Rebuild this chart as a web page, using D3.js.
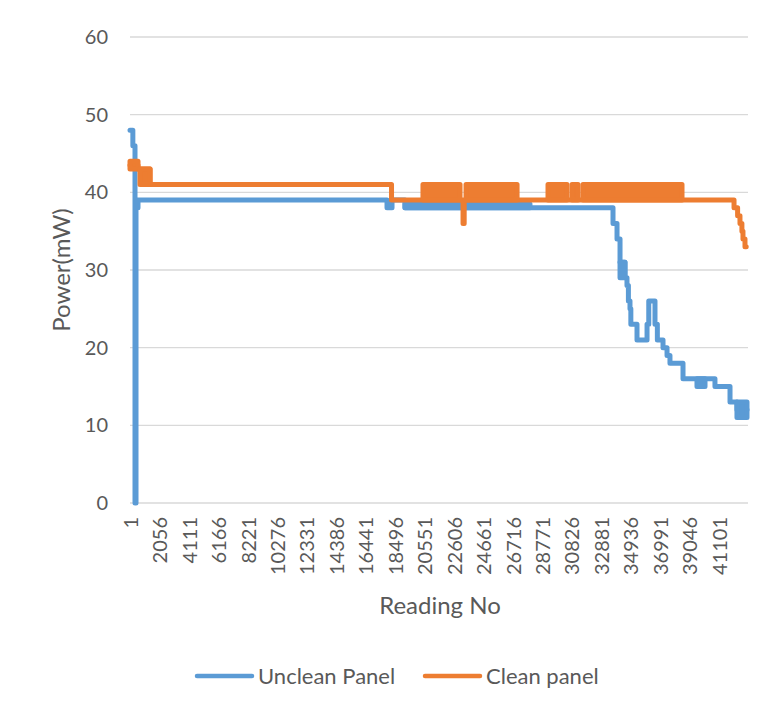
<!DOCTYPE html>
<html>
<head>
<meta charset="utf-8">
<script src="https://cdn.jsdelivr.net/npm/d3@7"></script>
<style>
  body { margin: 0; background: #fff; }
  text { font-family: Lato, "Open Sans", sans-serif; fill: #595959; }
</style>
</head>
<body>
<div id="chart"></div>
<script>
// series values: [reading no, power mW] change points (step lines)
var uncleanSteps = [
  [1, 48], [200, 46], [350, 0], [420, 38], [560, 39], [17935, 38], [18285, 39], [19190, 38],
  [33705, 36], [33985, 34], [34195, 31], [34540, 29], [34680, 28], [34780, 26], [34890, 25],
  [34950, 23], [35380, 21], [36080, 23], [36200, 26], [36635, 23], [36800, 21], [37195, 20],
  [37475, 19], [37680, 18], [38590, 16], [40820, 15], [41870, 13], [42355, 12], [43055, 12]
];
// ranges where the reading flickers between two levels: [from, to, low, high]
var uncleanBands = [
  [19190, 27910, 38, 38.5], [34195, 34540, 29, 31], [39565, 40125, 15, 16], [42355, 43055, 11, 13]
];
var cleanSteps = [
  [1, 43.5], [560, 43], [1400, 41], [18250, 39], [23240, 36], [23320, 39], [42150, 38],
  [42400, 37], [42565, 36], [42700, 35], [42775, 34], [42915, 33], [43000, 33]
];
var cleanBands = [
  [1, 560, 43, 44], [700, 1400, 41, 43], [20445, 23030, 39, 41], [23450, 27010, 39, 41],
  [29170, 30495, 39, 41], [30845, 31265, 39, 41], [31610, 38520, 39, 41]
];
var xTicks = [1, 2056, 4111, 6166, 8221, 10276, 12331, 14386, 16441, 18496, 20551, 22606,
  24661, 26716, 28771, 30826, 32881, 34936, 36991, 39046, 41101];
var yTicks = [0, 10, 20, 30, 40, 50, 60];
var seriesNames = ["Unclean Panel", "Clean panel"];
var seriesColors = ["#5B9BD5", "#ED7D31"];

var W = 765, H = 707;
var margin = { top: 37, right: 17, bottom: 204, left: 130 };

var svg = d3.select("#chart").append("svg")
  .attr("width", W)
  .attr("height", H);

var x = d3.scaleLinear().domain([1, 43125]).range([margin.left, W - margin.right]);
var y = d3.scaleLinear().domain([0, 60]).range([H - margin.bottom, margin.top]);

// gridlines
svg.append("g")
  .selectAll("line")
  .data(yTicks)
  .join("line")
  .attr("x1", x.range()[0])
  .attr("x2", x.range()[1])
  .attr("y1", d => y(d))
  .attr("y2", d => y(d))
  .attr("stroke", "#D9D9D9")
  .attr("stroke-width", 1.3);

// y axis labels
var yAxis = svg.append("g")
  .attr("transform", `translate(${margin.left}, 0)`)
  .call(d3.axisLeft(y).tickValues(yTicks).tickSize(0).tickPadding(22));
yAxis.select(".domain").remove();
yAxis.selectAll("text")
  .style("font-size", "20px")
  .style("font-family", "Lato, sans-serif")
  .attr("fill", "#595959");

// x axis labels (rotated)
var xAxis = svg.append("g")
  .attr("transform", `translate(0, ${y(0)})`)
  .call(d3.axisBottom(x).tickValues(xTicks).tickFormat(d3.format("d")).tickSize(0));
xAxis.select(".domain").remove();
xAxis.selectAll("text")
  .attr("transform", "rotate(-90)")
  .attr("text-anchor", "end")
  .attr("x", -14)
  .attr("y", 0)
  .attr("dy", "0.36em")
  .style("font-size", "20px")
  .style("font-family", "Lato, sans-serif")
  .attr("fill", "#595959");

// axis titles
svg.append("text")
  .attr("text-anchor", "middle")
  .attr("transform", `translate(70, ${(y(0) + y(60)) / 2}) rotate(-90)`)
  .style("font-size", "24px")
  .text("Power(mW)");

svg.append("text")
  .attr("text-anchor", "middle")
  .attr("x", 440)
  .attr("y", 614)
  .style("font-size", "24px")
  .text("Reading No");

// the lines
var stepLine = d3.line()
  .x(d => x(d[0]))
  .y(d => y(d[1]))
  .curve(d3.curveStepAfter);

function drawSeries (steps, bands, colour) {
  var g = svg.append("g");
  g.append("path")
    .datum(steps)
    .attr("fill", "none")
    .attr("stroke", colour)
    .attr("stroke-width", 5)
    .attr("stroke-linejoin", "round")
    .attr("stroke-linecap", "round")
    .attr("d", stepLine);
  g.selectAll("rect")
    .data(bands)
    .join("rect")
    .attr("x", d => x(d[0]))
    .attr("width", d => x(d[1]) - x(d[0]))
    .attr("y", d => y(d[3]))
    .attr("height", d => y(d[2]) - y(d[3]))
    .attr("fill", colour)
    .attr("stroke", colour)
    .attr("stroke-width", 5)
    .attr("stroke-linejoin", "round");
}

drawSeries(uncleanSteps, uncleanBands, seriesColors[0]);
drawSeries(cleanSteps, cleanBands, seriesColors[1]);

// legend
var legendX = [197, 425];
var legend = svg.append("g");
seriesNames.forEach((name, i) => {
  legend.append("line")
    .attr("x1", legendX[i])
    .attr("x2", legendX[i] + 55)
    .attr("y1", 676)
    .attr("y2", 676)
    .attr("stroke", seriesColors[i])
    .attr("stroke-width", 4.5)
    .attr("stroke-linecap", "round");
  legend.append("text")
    .attr("x", legendX[i] + 61)
    .attr("y", 684)
    .style("font-size", "22px")
    .text(name);
});
</script>
</body>
</html>
